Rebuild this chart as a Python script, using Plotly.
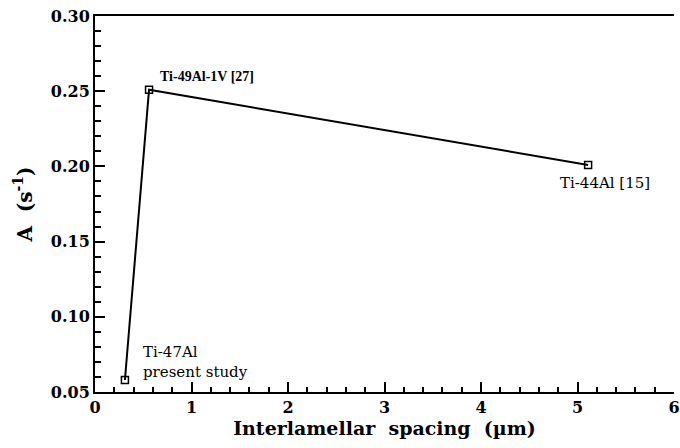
import plotly.graph_objects as go

# Interlamellar spacing (um) vs. pre-exponential factor A (1/s)
spacing = [0.31, 0.56, 5.11]
a_values = [0.058, 0.251, 0.201]
labels = ["Ti-47Al<br>present study", "Ti-49Al-1V [27]", "Ti-44Al [15]"]

x_ticks = [0, 1, 2, 3, 4, 5, 6]
y_ticks = [0.05, 0.10, 0.15, 0.20, 0.25, 0.30]

serif = "Liberation Serif"
serif_wide = "DejaVu Serif"

fig = go.Figure()
fig.add_trace(go.Scatter(
    x=spacing, y=a_values, mode="lines+markers",
    line=dict(color="black", width=2),
    marker=dict(symbol="square-open", size=7, color="black",
                line=dict(color="black", width=1.5)),
    showlegend=False, cliponaxis=False,
))

# Point labels
fig.add_annotation(x=spacing[0], y=a_values[0], text=labels[0], showarrow=False,
                   xanchor="left", yanchor="bottom", xshift=16, yshift=-3,
                   align="left", font=dict(family=serif_wide, size=15, color="black"))
fig.add_annotation(x=spacing[1], y=a_values[1], text=labels[1], showarrow=False,
                   xanchor="left", yanchor="bottom", xshift=9, yshift=4,
                   font=dict(family=serif, size=14, color="black", weight="bold"))
fig.add_annotation(x=spacing[2], y=a_values[2], text=labels[2], showarrow=False,
                   xanchor="center", yanchor="top", xshift=17, yshift=-7,
                   font=dict(family=serif_wide, size=15, color="black"))

fig.update_xaxes(
    range=[0, 6], tickvals=x_ticks, ticktext=[str(v) for v in x_ticks],
    ticks="inside", ticklen=10, tickwidth=2, tickcolor="black",
    ticklabeloverflow="allow",
    minor=dict(dtick=0.2, ticks="inside", ticklen=5, tickwidth=1.5, tickcolor="black"),
    showline=True, linecolor="black", linewidth=2, mirror=True,
    showgrid=False, zeroline=False,
    tickfont=dict(family=serif_wide, size=16, color="black", weight="bold"),
    title=dict(text="Interlamellar\u00a0\u00a0spacing\u00a0\u00a0(\u00b5m)", standoff=4,
               font=dict(family=serif_wide, size=19, color="black", weight="bold")),
)
fig.update_yaxes(
    range=[0.05, 0.30], tickvals=y_ticks, ticktext=[f"{v:.2f}" for v in y_ticks],
    ticks="inside", ticklen=10, tickwidth=2, tickcolor="black",
    minor=dict(dtick=0.01, ticks="inside", ticklen=6, tickwidth=1.5, tickcolor="black"),
    showline=True, linecolor="black", linewidth=2,
    showgrid=False, zeroline=False,
    tickfont=dict(family=serif_wide, size=16, color="black", weight="bold"),
    title=dict(text="A\u00a0\u00a0(s<sup>-1</sup>)", standoff=13,
               font=dict(family=serif_wide, size=20, color="black", weight="bold")),
)

fig.update_layout(
    width=680, height=448,
    margin=dict(l=95, r=0, t=16, b=56),
    paper_bgcolor="white", plot_bgcolor="white",
)

fig.write_html("out.html")
